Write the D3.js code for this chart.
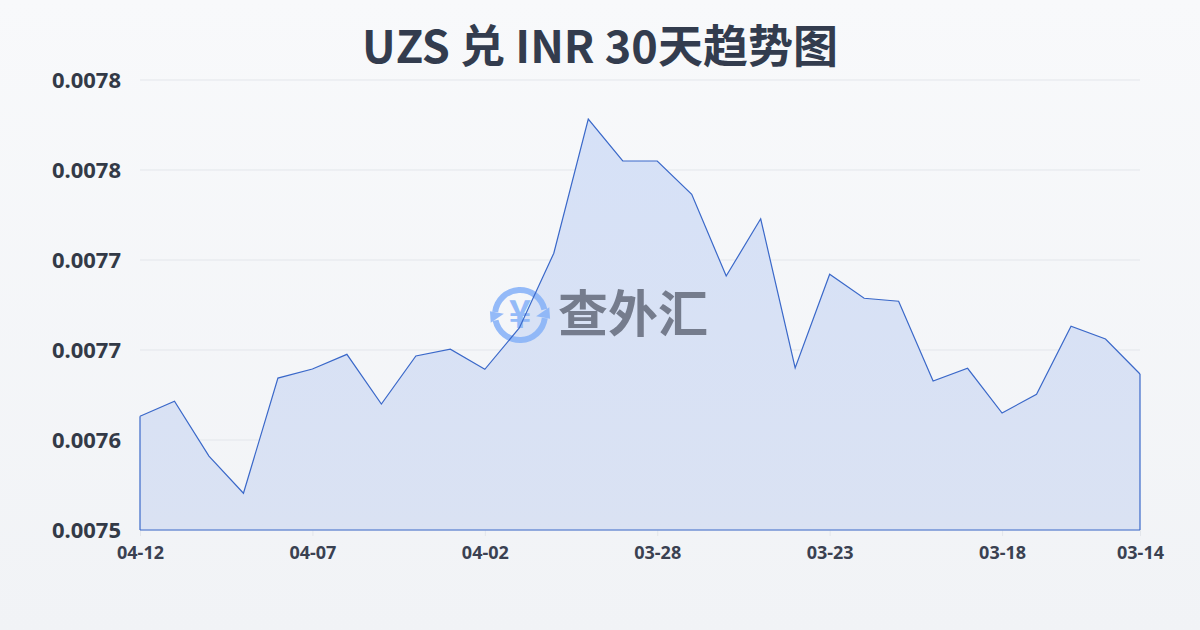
<!DOCTYPE html>
<html><head><meta charset="utf-8">
<script src="https://cdn.jsdelivr.net/npm/d3@7/dist/d3.min.js"></script>
<style>html,body{margin:0;padding:0;}svg{display:block;}</style>
</head><body>
<svg id="c" width="1200" height="630"></svg>
<script>
const title = "UZS 兑 INR 30天趋势图";
const dates = ["04-12","04-11","04-10","04-09","04-08","04-07","04-06","04-05","04-04","04-03","04-02","04-01","03-31","03-30","03-29","03-28","03-27","03-26","03-25","03-24","03-23","03-22","03-21","03-20","03-19","03-18","03-17","03-16","03-15","03-14"];
const rates = [0.0076158,0.0076258,0.0075893,0.0075645,0.0076413,0.0076473,0.0076571,0.007624,0.007656,0.0076605,0.0076471,0.0076747,0.0077245,0.007814,0.007786,0.007786,0.0077638,0.0077093,0.0077475,0.007648,0.0077105,0.0076945,0.0076925,0.0076393,0.0076478,0.007618,0.0076305,0.0076758,0.0076673,0.007644];
const xTickLabels = ["04-12","04-07","04-02","03-28","03-23","03-18","03-14"];
const yTicks = [0.00754,0.0076,0.00766,0.00772,0.00778,0.00784];
const yDomain = [0.00754,0.00784];

const svg = d3.select("#c");
const W=1200,H=630, L=140, R=1140, T=80, B=530;
const defs = svg.append("defs");
const bg = defs.append("linearGradient").attr("id","bg").attr("x1",0).attr("y1",0).attr("x2",0).attr("y2",1);
bg.append("stop").attr("offset","0%").attr("stop-color","#f8f9fb");
bg.append("stop").attr("offset","100%").attr("stop-color","#f1f3f6");
const ag = defs.append("linearGradient").attr("id","ag").attr("x1",0).attr("y1",0).attr("x2",0).attr("y2",1);
ag.append("stop").attr("offset","0%").attr("stop-color","#d6e1f7");
ag.append("stop").attr("offset","100%").attr("stop-color","#dae2f3");
svg.append("rect").attr("width",W).attr("height",H).attr("fill","url(#bg)");

const x = d3.scalePoint().domain(dates).range([L,R]);
const y = d3.scaleLinear().domain(yDomain).range([B,T]);

// grid
svg.append("g").selectAll("line").data(yTicks).join("line")
  .attr("x1",L).attr("x2",R).attr("y1",d=>y(d)).attr("y2",d=>y(d))
  .attr("stroke","#e3e6eb").attr("stroke-width",1);

// x ticks
const xAxis = svg.append("g").attr("transform",`translate(0,${B})`)
  .call(d3.axisBottom(x).tickValues(xTickLabels).tickSize(6).tickPadding(10));
xAxis.select(".domain").remove();
xAxis.selectAll(".tick line").attr("stroke","#e3e6eb");
xAxis.selectAll(".tick text").attr("fill","#3a4151").attr("font-size","18px").attr("font-weight","bold")
  .attr("font-family","'Noto Sans', 'Open Sans', sans-serif");

// y axis
const yAxis = svg.append("g").attr("transform",`translate(${L},0)`)
  .call(d3.axisLeft(y).tickValues(yTicks).tickSize(0).tickPadding(19).tickFormat(d3.format(".4f")));
yAxis.select(".domain").remove();
yAxis.selectAll(".tick text").attr("fill","#333a47").attr("font-size","22px").attr("font-weight","bold")
  .attr("font-family","'Noto Sans', 'Open Sans', sans-serif");

// area
const area = d3.area().x((d,i)=>x(dates[i])).y0(B).y1(d=>y(d));
svg.append("path").datum(rates).attr("d",area).attr("fill","url(#ag)");

// watermark
const wm = svg.append("g").attr("opacity",0.9);
const cx=520, cy=315, ic="#8ab4f8";
const arcG = d3.arc().innerRadius(22).outerRadius(28);
wm.append("path").attr("d",arcG({startAngle:-1.45,endAngle:1.35}))
  .attr("transform",`translate(${cx},${cy})`).attr("fill",ic);
wm.append("path").attr("d",arcG({startAngle:1.7,endAngle:4.5}))
  .attr("transform",`translate(${cx},${cy})`).attr("fill",ic);
// arrowheads
wm.append("path").attr("d",`M${cx+17},${cy-4} L${cx+33},${cy-4} L${cx+27},${cy+6} Z`)
  .attr("transform",`rotate(-35 ${cx+25} ${cy})`).attr("fill",ic);
wm.append("path").attr("d",`M${cx-17},${cy+4} L${cx-33},${cy+4} L${cx-27},${cy-6} Z`)
  .attr("transform",`rotate(-35 ${cx-25} ${cy})`).attr("fill",ic);
wm.append("text").attr("x",cx).attr("y",cy+13).attr("text-anchor","middle").attr("font-size","38px").attr("font-weight","bold")
  .attr("fill",ic).attr("font-family","'Noto Sans CJK SC', sans-serif").text("¥");
wm.append("text").attr("x",558).attr("y",332).attr("font-size","50px").attr("font-weight","bold")
  .attr("fill","#6b7282").attr("font-family","'Noto Sans CJK SC', sans-serif").text("查外汇");

// line + edges
const line = d3.line().x((d,i)=>x(dates[i])).y(d=>y(d));
svg.append("path").datum(rates).attr("d",line).attr("fill","none").attr("stroke","#3a68c9").attr("stroke-width",1.2);
svg.append("line").attr("x1",L).attr("x2",L).attr("y1",y(rates[0])).attr("y2",B).attr("stroke","#3a68c9").attr("stroke-width",1.2);
svg.append("line").attr("x1",R).attr("x2",R).attr("y1",y(rates[rates.length-1])).attr("y2",B).attr("stroke","#3a68c9").attr("stroke-width",1.2);
svg.append("line").attr("x1",L).attr("x2",R).attr("y1",B).attr("y2",B).attr("stroke","#3a68c9").attr("stroke-width",1.2);

// title
svg.append("text").attr("x",600).attr("y",63).attr("text-anchor","middle").attr("font-size","45px").attr("font-weight","bold")
  .attr("fill","#333c4e").attr("font-family","'Noto Sans CJK SC', sans-serif").text(title);
</script>
</body></html>
